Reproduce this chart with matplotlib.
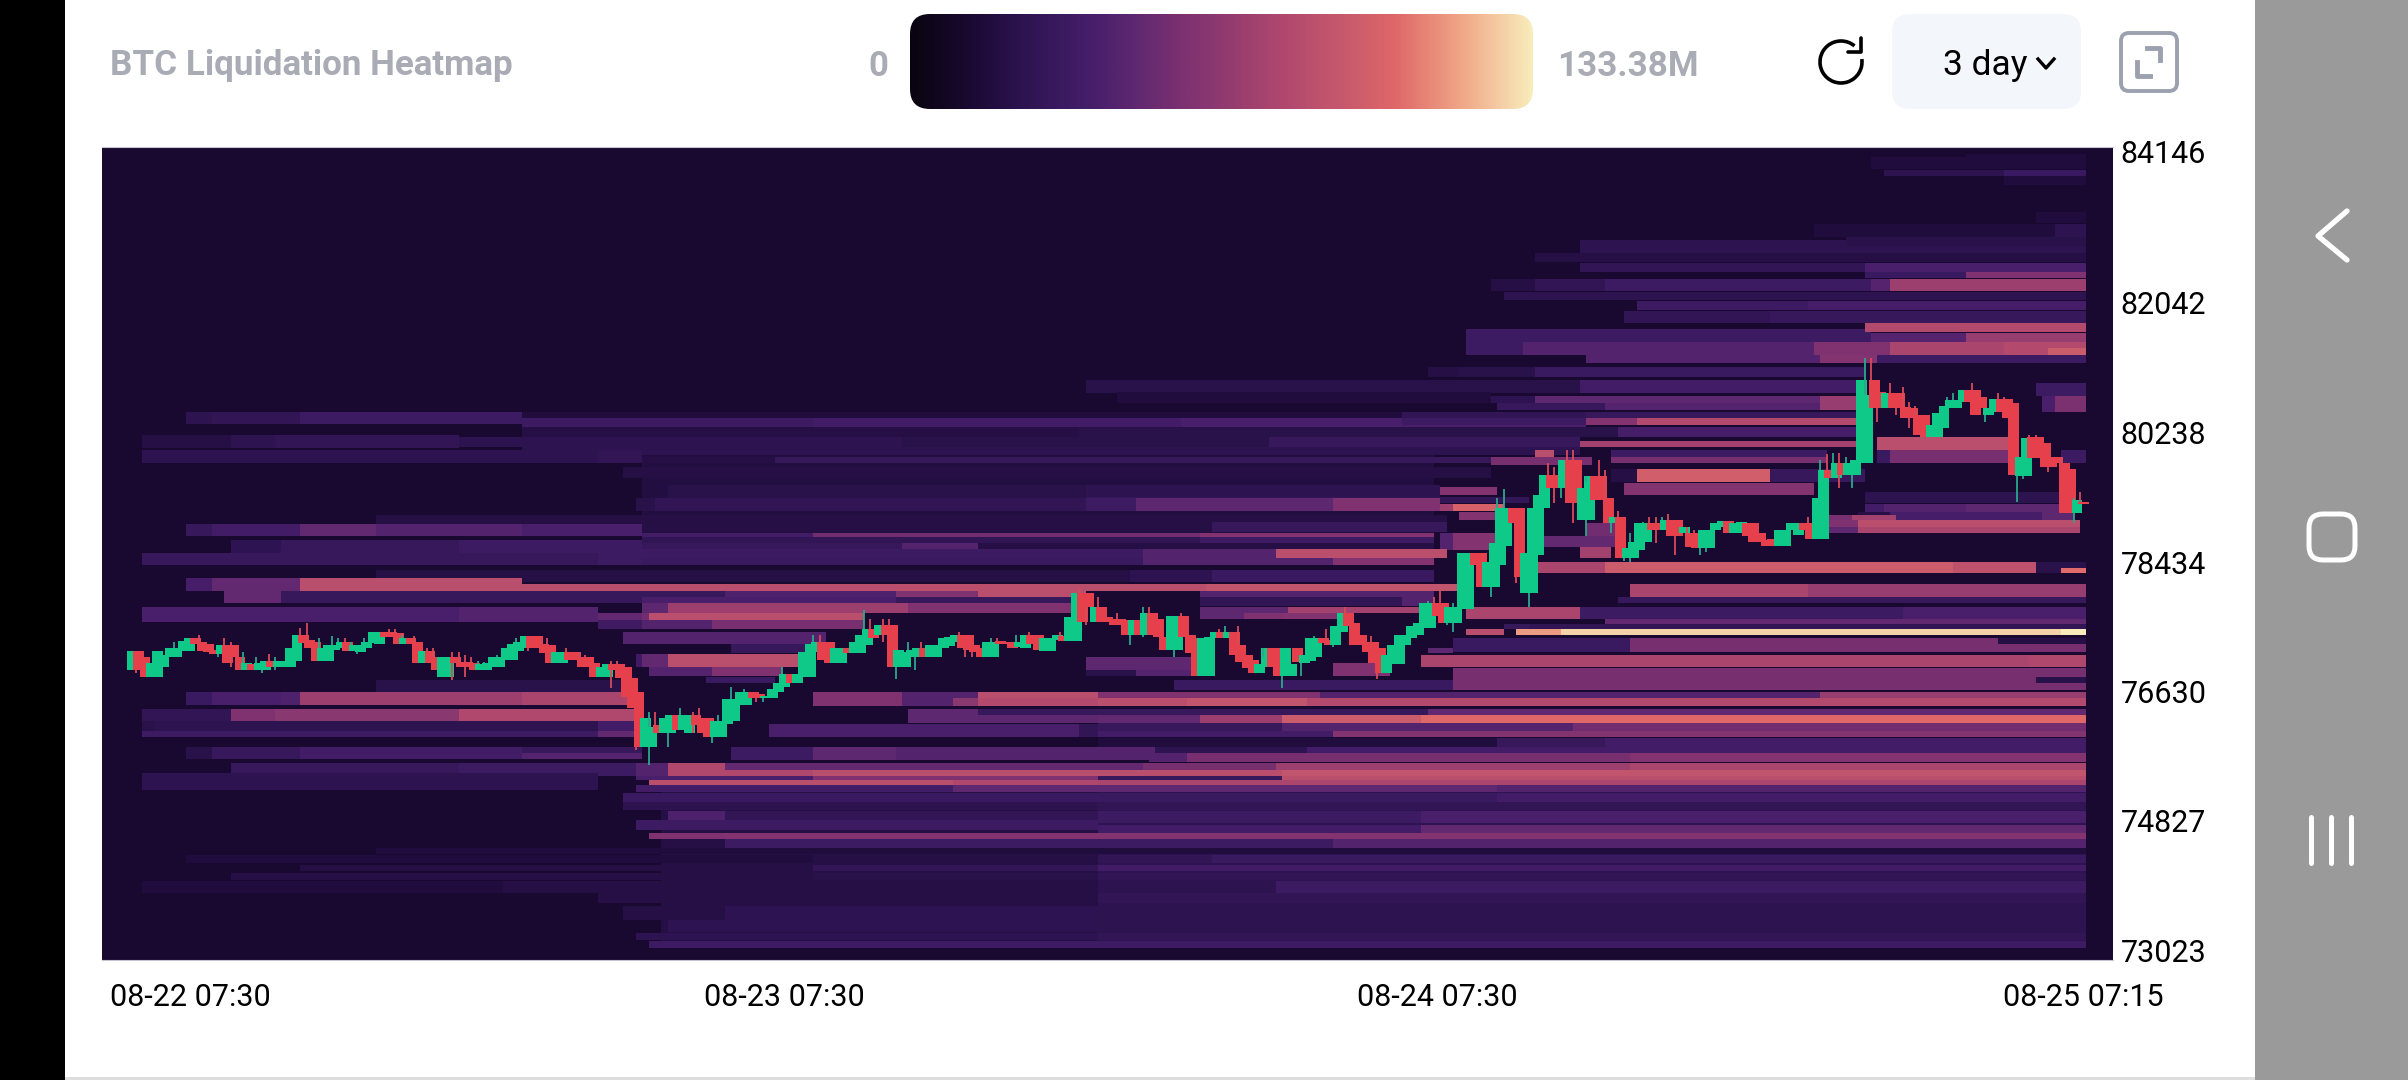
import numpy as np
import matplotlib
matplotlib.use("Agg")
import matplotlib.pyplot as plt
from matplotlib.colors import LinearSegmentedColormap
from matplotlib.patches import FancyBboxPatch, Rectangle, Arc
from matplotlib.transforms import ScaledTranslation

plt.rcParams['font.family'] = ['Roboto', 'DejaVu Sans']

# tick labels
price_ticks = [84146, 82042, 80238, 78434, 76630, 74827, 73023]
time_ticks = [0, 103, 206, 308]
time_labels = ['08-22 07:30', '08-23 07:30', '08-24 07:30', '08-25 07:15']
scale_max = 133.38

# candles
opens = [76931, 77195, 77107, 76838, 76838, 76977, 77107, 77107, 77195, 77195, 77371, 77325, 77288, 77209, 77149, 77279,
         77279, 77107, 76931, 77014, 76931, 76931, 77056, 76977, 76977, 76977, 77056, 77418, 77348, 77325, 77056, 77056,
         77209, 77232, 77325, 77200, 77186, 77232, 77302, 77288, 77455, 77455, 77441, 77288, 77371, 77325, 77023, 77195,
         77107, 76838, 76838, 77107, 77047, 77047, 77023, 76931, 76931, 76977, 76977, 77070, 77070, 77195, 77232, 77409,
         77409, 77288, 77279, 77023, 77023, 77186, 77186, 77107, 77107, 77023, 76838, 76838, 77014, 77014, 76977, 76815,
         76620, 75864, 75864, 76165, 76049, 76049, 76305, 76096, 76049, 76305, 76258, 76258, 76003, 76003, 76179, 76226,
         76444, 76444, 76620, 76597, 76537, 76537, 76620, 76699, 76875, 76755, 76838, 76838, 77186, 77325, 77325, 77024,
         77024, 77233, 77163, 77163, 77279, 77497, 77418, 77557, 77557, 76977, 76977, 77107, 77107, 77233, 77107, 77107,
         77233, 77265, 77325, 77418, 77418, 77279, 77233, 77107, 77107, 77335, 77325, 77325, 77247, 77233, 77418, 77418,
         77200, 77200, 77349, 77409, 77335, 77335, 77998, 77998, 77604, 77813, 77673, 77636, 77636, 77627, 77418, 77627,
         77419, 77720, 77637, 77395, 77210, 77210, 77683, 77419, 77372, 76848, 76848, 77372, 77465, 77372, 77465, 77279,
         77140, 77071, 76885, 76978, 77233, 77233, 76848, 76848, 77233, 77024, 77061, 77117, 77372, 77349, 77279, 77465,
         77729, 77581, 77419, 77326, 77326, 77233, 76885, 77015, 77015, 77279, 77372, 77419, 77511, 77511, 77859, 77859,
         77590, 77590, 77777, 77777, 78566, 78566, 78092, 78092, 78394, 78659, 79183, 79183, 78000, 78000, 78533, 79183,
         79647, 79647, 79461, 79856, 79856, 79020, 79020, 79633, 79633, 79322, 78974, 79058, 78487, 78487, 78603, 78719,
         78974, 78974, 78881, 79020, 79020, 78835, 78835, 78835, 78626, 78626, 78881, 78918, 79011, 78844, 78844, 78974,
         78974, 78835, 78742, 78751, 78658, 78658, 78881, 78812, 78974, 78974, 78751, 78751, 79717, 79601, 79809, 79647,
         79647, 79809, 79809, 80969, 80807, 80575, 80784, 80784, 80598, 80575, 80482, 80482, 80171, 80171, 80297, 80575,
         80575, 80668, 80830, 80830, 80737, 80482, 80529, 80700, 80700, 80645, 79633, 79633, 80171, 80171, 80088, 79902,
         79902, 79809, 79726, 79113, 79276]
closes = [77195, 76931, 76838, 77023, 77195, 77139, 77232, 77232, 77334, 77371, 77288, 77195, 77186, 77153, 77279, 77023,
          77107, 76931, 77023, 76931, 77023, 77056, 76977, 77056, 77056, 77232, 77418, 77302, 77232, 77056, 77241, 77279,
          77279, 77325, 77200, 77279, 77279, 77316, 77455, 77455, 77385, 77385, 77288, 77371, 77288, 77023, 77195, 77023,
          76931, 77107, 77107, 77023, 76977, 76977, 76931, 77014, 77023, 77107, 77107, 77241, 77288, 77325, 77409, 77241,
          77241, 77163, 77023, 77186, 77186, 77070, 77070, 76977, 76977, 76838, 76977, 77014, 76931, 76815, 76559, 76400,
          75864, 76258, 76142, 76049, 76258, 76305, 76096, 76305, 76305, 76165, 76049, 76003, 76226, 76226, 76523, 76523,
          76620, 76620, 76537, 76537, 76574, 76666, 76755, 76875, 76755, 76875, 77186, 77293, 77325, 77070, 77024, 77233,
          77233, 77163, 77325, 77418, 77497, 77372, 77557, 77418, 76977, 77209, 77186, 77209, 77233, 77107, 77279, 77279,
          77372, 77395, 77418, 77233, 77209, 77186, 77107, 77325, 77325, 77293, 77293, 77233, 77325, 77418, 77293, 77209,
          77372, 77372, 77418, 77335, 77673, 77998, 77604, 77813, 77813, 77604, 77604, 77557, 77557, 77418, 77627, 77418,
          77729, 77419, 77395, 77210, 77683, 77683, 77395, 77163, 76848, 77372, 77386, 77465, 77372, 77465, 77140, 77047,
          76955, 76885, 77015, 77233, 76978, 76848, 77233, 77015, 77047, 77140, 77372, 77372, 77303, 77279, 77544, 77729,
          77544, 77279, 77279, 77187, 77024, 76885, 77140, 77279, 77419, 77419, 77544, 77581, 77859, 77859, 77683, 77590,
          77813, 77813, 78566, 78566, 78394, 78092, 78440, 78705, 79183, 79183, 78974, 78232, 78556, 79183, 79368, 79647,
          79461, 79461, 79856, 79252, 79252, 79461, 79633, 79299, 79299, 78974, 79067, 78487, 78626, 78719, 78974, 78974,
          78881, 78881, 79020, 78798, 78798, 78918, 78649, 78626, 78881, 78881, 78974, 79011, 78844, 78974, 78997, 78798,
          78719, 78719, 78658, 78658, 78881, 78881, 78974, 78974, 78881, 78751, 79322, 79717, 79601, 79809, 79647, 79809,
          79856, 80969, 80761, 80575, 80575, 80784, 80575, 80575, 80436, 80436, 80204, 80171, 80343, 80505, 80607, 80691,
          80691, 80830, 80668, 80482, 80575, 80575, 80700, 80529, 80436, 79647, 79902, 80157, 79879, 79879, 79763, 79763,
          79809, 79113, 79113, 79299, 79243]

# wicks, only where they stand out from the body
high_idx = [7, 11, 15, 16, 18, 20, 22, 23, 27, 28, 30, 32, 33, 34, 35, 37, 41, 42, 43, 45, 47, 48, 51, 52, 53, 54, 55, 56,
            58, 61, 65, 66, 69, 71, 72, 76, 77, 82, 83, 86, 87, 89, 90, 93, 95, 97, 103, 108, 109, 116, 117, 119, 120, 123,
            125, 131, 136, 137, 140, 142, 147, 150, 153, 156, 160, 161, 166, 172, 173, 175, 179, 187, 189, 192, 196, 205,
            206, 207, 209, 216, 217, 224, 225, 227, 228, 230, 232, 233, 235, 237, 239, 240, 241, 242, 243, 246, 247, 265,
            267, 268, 269, 270, 271, 274, 275, 278, 280, 281, 282, 287, 288, 291, 295, 296, 300, 301, 305, 307, 308]
high_val = [77325, 77418, 77371, 77325, 77186, 77107, 77153, 77107, 77510, 77590, 77371, 77409, 77371, 77371, 77325, 77371,
            77501, 77501, 77418, 77409, 77232, 77232, 77186, 77186, 77139, 77107, 77060, 77047, 77139, 77371, 77325, 77371,
            77232, 77186, 77139, 77056, 77056, 76351, 76351, 76305, 76397, 76351, 76397, 76305, 76699, 76662, 76968, 77418,
            77418, 77766, 77636, 77636, 77636, 77325, 77325, 77465, 77372, 77372, 77418, 77465, 77455, 78068, 77942, 77720,
            77813, 77813, 77720, 77497, 77544, 77544, 77108, 77409, 77497, 77813, 77409, 77897, 77943, 78036, 77859, 79322,
            79447, 79809, 79763, 79995, 79995, 79554, 79856, 79716, 79150, 78835, 78997, 79058, 79058, 79058, 79104, 78918,
            78881, 79058, 79856, 79939, 79949, 79949, 79902, 81271, 81271, 80923, 80877, 80668, 80607, 80737, 80784, 80923,
            80784, 80737, 80204, 80204, 79893, 79322, 79406]
low_idx = [1, 14, 16, 21, 23, 36, 48, 51, 53, 63, 76, 80, 82, 85, 89, 92, 99, 100, 119, 121, 124, 132, 133, 151, 158, 160,
           163, 165, 182, 185, 190, 197, 208, 209, 215, 219, 221, 225, 226, 228, 230, 234, 236, 237, 241, 244, 248, 249,
           270, 272, 276, 279, 281, 293, 298, 299, 303, 307]
low_val = [76884, 77107, 76977, 76884, 76931, 77153, 76931, 76791, 76838, 77195, 76675, 75817, 75609, 75864, 76049, 75910,
           76490, 76490, 77325, 76801, 76931, 77107, 77107, 77557, 77279, 77395, 77233, 77108, 76676, 76848, 77247, 76801,
           77558, 77465, 77953, 78139, 77814, 79252, 79322, 78974, 78798, 78835, 78454, 78440, 78705, 78533, 78533, 78579,
           79461, 79461, 80389, 80482, 80297, 80389, 79276, 79587, 79693, 78974]

# liquidation bands: (price high, price low, last time index, [(from index, amount in M), ...])
bands_top = [
    (84118, 84034, 308, [(290, 17)]),
    (84076, 83909, 308, [(275, 17)]),
    (83895, 83811, 308, [(277, 24), (296, 32)]),
    (83811, 83686, 308, [(296, 17)]),
    (83310, 83157, 308, [(301, 17)]),
    (83143, 82962, 308, [(266, 17), (304, 24)]),
    (82920, 82739, 308, [(229, 24)]),
    (82962, 82836, 308, [(271, 22)]),
    (82739, 82613, 308, [(222, 20)]),
    (82599, 82474, 308, [(229, 27), (274, 40)]),
    (82474, 82390, 308, [(274, 32), (290, 60)]),
    (82376, 82209, 308, [(215, 20), (222, 27), (233, 34), (275, 45), (278, 72)]),
    (82195, 82084, 308, [(217, 24)]),
    (82070, 81945, 308, [(238, 34), (265, 38)]),
    (81931, 81764, 308, [(236, 27), (259, 30)]),
    (81680, 81499, 274, [(211, 34)]),
    (81764, 81639, 308, [(274, 82)]),
    (81624, 81499, 308, [(275, 45), (290, 70)]),
    (81499, 81318, 308, [(211, 34), (220, 44), (266, 60), (278, 78), (296, 82)]),
    (81415, 81318, 308, [(303, 95)]),
    (81318, 81206, 308, [(230, 44), (267, 62), (276, 34)]),
]
bands_upper = [
    (80450, 78590, 205, [(81, 18)]),
    (81151, 81011, 273, [(205, 20), (210, 22), (222, 32)]),
    (80970, 80788, 273, [(151, 22), (229, 36)]),
    (80928, 80747, 308, [(301, 34)]),
    (80802, 80649, 214, [(156, 17)]),
    (80747, 80649, 273, [(215, 25), (222, 48), (267, 70)]),
    (80649, 80552, 273, [(216, 30), (233, 44), (267, 70)]),
    (80747, 80524, 308, [(302, 40), (304, 58)]),
    (80524, 80356, 61, [(9, 24), (13, 27), (27, 34)]),
    (80524, 80440, 273, [(62, 17), (201, 27), (230, 30)]),
    (80440, 80315, 229, [(62, 34), (108, 36), (166, 40)]),
    (80440, 80342, 273, [(201, 34), (230, 62), (238, 82)]),
    (80315, 80175, 273, [(62, 20), (150, 22), (235, 38)]),
    (80203, 80022, 51, [(2, 20), (16, 24), (23, 27)]),
    (80175, 80036, 228, [(52, 24), (122, 22), (180, 30)]),
    (80120, 80036, 273, [(229, 75)]),
    (80175, 79994, 297, [(276, 85)]),
    (80036, 79925, 228, [(62, 24)]),
    (79994, 79813, 80, [(2, 24), (74, 27)]),
    (79897, 79813, 219, [(81, 20), (102, 30)]),
    (79897, 79785, 230, [(215, 57)]),
    (79994, 79897, 224, [(222, 85)]),
    (79994, 79897, 267, [(234, 34)]),
    (79897, 79813, 267, [(234, 57)]),
    (79994, 79813, 296, [(276, 32), (278, 57)]),
    (79994, 79813, 308, [(305, 34)]),
    (79757, 79604, 214, [(78, 20)]),
    (79730, 79549, 273, [(234, 20), (238, 97), (259, 30)]),
    (79507, 79326, 206, [(85, 22), (151, 24)]),
    (79535, 79367, 265, [(236, 62)]),
    (79479, 79368, 215, [(207, 62)]),
    (79409, 79256, 306, [(274, 24)]),
    (79340, 79256, 220, [(151, 28)]),
]
bands_middle = [
    (79326, 79144, 206, [(80, 22), (83, 27), (151, 34), (159, 48), (190, 60)]),
    (79242, 79144, 216, [(207, 72), (209, 100)]),
    (79242, 79131, 306, [(274, 36), (277, 44), (290, 48)]),
    (79131, 79020, 215, [(210, 62)]),
    (79131, 79020, 306, [(273, 20), (278, 38), (302, 48)]),
    (79089, 79020, 278, [(268, 57), (272, 75)]),
    (79020, 78922, 307, [(268, 60), (273, 85)]),
    (78922, 78838, 307, [(268, 48), (273, 78)]),
    (79089, 78922, 207, [(39, 20)]),
    (78964, 78796, 80, [(9, 30), (13, 36), (27, 50), (39, 44), (62, 40)]),
    (78991, 78852, 207, [(81, 20), (171, 30)]),
    (78838, 78783, 205, [(81, 36), (108, 55), (169, 62)]),
    (78783, 78699, 205, [(81, 27), (169, 34)]),
    (78838, 78601, 215, [(207, 44), (209, 62)]),
    (78977, 78800, 234, [(230, 55)]),
    (78800, 78650, 234, [(223, 50)]),
    (78741, 78559, 80, [(16, 25), (24, 30), (52, 34)]),
    (78699, 78574, 205, [(81, 30), (122, 44), (134, 20)]),
    (78650, 78490, 233, [(229, 75)]),
    (78559, 78393, 80, [(2, 30), (74, 34)]),
    (78615, 78490, 207, [(81, 34), (160, 44), (181, 85)]),
    (78490, 78393, 205, [(81, 32), (160, 44), (190, 62)]),
    (78323, 78156, 205, [(39, 20), (158, 24), (171, 32)]),
    (78433, 78280, 232, [(222, 78)]),
    (78433, 78280, 308, [(233, 95), (288, 88), (301, 22)]),
    (78350, 78280, 308, [(305, 105)]),
    (78211, 78030, 61, [(9, 38), (13, 50), (27, 85)]),
    (78128, 78030, 209, [(62, 85), (170, 90)]),
    (78128, 77947, 308, [(237, 78), (265, 70)]),
    (78030, 77863, 80, [(15, 50), (24, 30)]),
    (78030, 77947, 150, [(80, 30), (94, 42), (121, 60), (134, 85)]),
    (78030, 77947, 205, [(169, 44)]),
    (77947, 77863, 150, [(81, 40), (121, 30)]),
    (77947, 77821, 205, [(169, 27), (201, 44)]),
    (77947, 77863, 308, [(235, 30)]),
    (77863, 77724, 150, [(81, 48), (85, 72), (123, 60)]),
    (77807, 77724, 205, [(169, 48), (183, 75)]),
    (77807, 77598, 73, [(2, 40), (52, 44)]),
    (77807, 77640, 229, [(211, 78)]),
    (77807, 77640, 308, [(229, 34), (280, 40)]),
    (77724, 77626, 115, [(74, 50), (81, 55), (82, 85)]),
    (77724, 77640, 191, [(169, 48), (176, 60), (182, 62)]),
    (77640, 77570, 308, [(233, 50)]),
    (77626, 77501, 115, [(74, 35), (81, 44), (92, 57)]),
    (77570, 77500, 308, [(217, 30), (221, 27)]),
    (77500, 77416, 216, [(211, 85)]),
    (77500, 77416, 308, [(219, 116), (226, 128), (295, 128), (305, 133)]),
]
bands_lower = [
    (77459, 77292, 109, [(78, 44)]),
    (77375, 77180, 308, [(209, 32), (237, 57)]),
    (77375, 77290, 308, [(295, 20)]),
    (77292, 77166, 107, [(95, 30)]),
    (77236, 77166, 208, [(205, 48)]),
    (77153, 76972, 106, [(80, 35), (81, 50), (85, 85)]),
    (77139, 76972, 308, [(204, 78), (300, 80)]),
    (77111, 76930, 167, [(151, 48)]),
    (77027, 76846, 198, [(190, 60)]),
    (76972, 76846, 102, [(82, 44), (92, 60)]),
    (76930, 76846, 167, [(151, 22), (159, 44)]),
    (76958, 76651, 308, [(209, 57)]),
    (76832, 76749, 308, [(301, 22)]),
    (76832, 76749, 101, [(91, 32)]),
    (76791, 76651, 208, [(165, 32)]),
    (76791, 76623, 78, [(39, 22)]),
    (76623, 76442, 80, [(9, 32), (13, 40), (24, 42), (27, 72), (62, 78)]),
    (76623, 76540, 308, [(108, 60), (122, 44), (134, 85), (153, 60), (188, 44), (267, 70)]),
    (76540, 76429, 308, [(108, 60), (122, 44), (130, 65), (134, 82), (153, 85), (167, 90), (186, 82)]),
    (76386, 76219, 80, [(2, 27), (16, 60), (23, 65), (52, 80)]),
    (76386, 76302, 308, [(123, 48), (134, 30), (205, 50)]),
    (76302, 76191, 308, [(123, 48), (153, 50), (169, 72), (182, 95), (204, 104)]),
    (76219, 76066, 80, [(2, 22), (4, 24), (74, 36)]),
    (76177, 75997, 205, [(101, 40), (150, 27)]),
    (76191, 76080, 308, [(153, 30), (182, 44), (228, 55)]),
    (76080, 75997, 80, [(2, 34), (74, 50)]),
    (76080, 75997, 308, [(153, 36), (190, 62)]),
    (75983, 75857, 308, [(153, 17), (216, 30), (233, 36)]),
    (75857, 75690, 80, [(9, 22), (13, 30), (27, 36), (62, 30)]),
    (75774, 75690, 80, [(62, 44)]),
    (75857, 75676, 160, [(95, 34), (108, 48), (121, 44)]),
    (75857, 75774, 308, [(161, 44), (162, 24), (186, 36)]),
    (75774, 75648, 308, [(161, 44), (167, 57), (237, 62)]),
    (75634, 75453, 79, [(16, 30), (52, 34)]),
    (75634, 75536, 308, [(80, 44), (85, 80), (94, 50), (160, 57), (181, 72), (237, 78)]),
    (75536, 75453, 308, [(80, 44), (85, 80), (108, 85), (182, 90)]),
    (75453, 75397, 308, [(80, 40), (108, 60), (153, 30), (182, 85)]),
    (75397, 75328, 308, [(82, 85), (130, 80), (153, 78)]),
    (75495, 75258, 73, [(2, 24)]),
    (75328, 75230, 308, [(80, 36), (130, 48), (216, 44)]),
]
bands_bottom = [
    (75230, 73057, 308, [(84, 20), (153, 25)]),
    (75216, 75091, 308, [(78, 32), (216, 36)]),
    (75091, 74980, 308, [(78, 24), (153, 27)]),
    (74966, 74799, 308, [(85, 42), (94, 27), (153, 34), (204, 40)]),
    (74841, 74702, 152, [(80, 34)]),
    (74771, 74660, 308, [(153, 36), (204, 50)]),
    (74660, 74576, 308, [(82, 60), (94, 62)]),
    (74576, 74450, 308, [(94, 34), (190, 44)]),
    (74450, 74367, 308, [(39, 17)]),
    (74353, 74241, 308, [(9, 17), (108, 20), (153, 27), (171, 32)]),
    (74213, 74130, 308, [(27, 20), (108, 27), (153, 36)]),
    (74102, 74004, 308, [(16, 20), (108, 22), (153, 27)]),
    (73990, 73823, 308, [(2, 17), (59, 20), (153, 24), (181, 34)]),
    (73823, 73684, 308, [(74, 20), (153, 27)]),
    (73643, 73448, 308, [(78, 20), (94, 25), (153, 24)]),
    (73448, 73281, 308, [(85, 25), (153, 24)]),
    (73266, 73169, 308, [(80, 25), (153, 27)]),
    (73155, 73057, 308, [(82, 34)]),
]

W, H = 2408, 1080
fig = plt.figure(figsize=(W / 100, H / 100), dpi=100, facecolor='white')

heat_cmap = LinearSegmentedColormap.from_list('heat', [
    (0.0, '#090410'), (0.10, '#1b0a33'), (0.13, '#220e3f'), (0.18, '#2d1350'), (0.24, '#3a1a60'),
    (0.30, '#4a1f6c'), (0.36, '#5e2870'), (0.43, '#7a3070'), (0.50, '#8f3a70'), (0.60, '#b0486e'),
    (0.70, '#c85a6d'), (0.78, '#df6768'), (0.89, '#f0a888'), (1.0, '#f8ecbb')])

# page furniture, in pixels
ui = fig.add_axes([0, 0, 1, 1])
ui.set_xlim(0, W)
ui.set_ylim(H, 0)
ui.axis('off')
ui.add_patch(Rectangle((0, 0), 65, H, color='black', lw=0))
ui.add_patch(Rectangle((2255, 0), 153, H, color='#9a9a9a', lw=0))
ui.add_patch(Rectangle((65, 1077), 2190, 3, color='#dedede', lw=0))

ui.text(110, 66, 'BTC Liquidation Heatmap', fontsize=25.2, fontweight='bold', color='#a9acb4', va='center')
ui.text(888, 66, '0', fontsize=25, fontweight='bold', color='#a9acb4', va='center', ha='right')
ui.text(1557, 66, '%.2fM' % scale_max, fontsize=25.2, fontweight='bold', color='#a9acb4', va='center')

# colour scale
gradient = np.linspace(0, scale_max, 600).reshape(1, -1)
img = ui.imshow(gradient, cmap=heat_cmap, vmin=0, vmax=scale_max, extent=(910, 1533, 109, 14), aspect='auto', zorder=2)
clip = FancyBboxPatch((926, 30), 591, 63, boxstyle='round,pad=16,rounding_size=20', fc='none', ec='none')
ui.add_patch(clip)
img.set_clip_path(clip)
ui.set_xlim(0, W)
ui.set_ylim(H, 0)

# refresh button
ui.add_patch(Arc((1841, 62), 42, 42, theta1=-8, theta2=310, color='black', lw=2.6))
ui.plot([1848, 1861, 1861], [52, 52, 38], color='black', lw=2.6, solid_capstyle='round')

# range button
ui.add_patch(FancyBboxPatch((1908, 30), 157, 63, boxstyle='round,pad=16,rounding_size=18', fc='#f3f6fa', ec='none'))
ui.text(1943, 65, '3 day', fontsize=25.5, color='black', va='center')
ui.plot([2038, 2046, 2054], [59, 68, 59], color='black', lw=2.4)

# expand button
ui.add_patch(FancyBboxPatch((2128, 40), 42, 44, boxstyle='round,pad=7,rounding_size=8', fc='none', ec='#9ba1ae', lw=2.8))
ui.plot([2147, 2160, 2160], [48, 48, 60], color='#9ba1ae', lw=3.5)
ui.plot([2137, 2137, 2150], [62, 76, 76], color='#9ba1ae', lw=3.5)

# phone navigation
ui.plot([2347, 2318, 2347], [211, 236, 260], color='white', lw=3.8, solid_capstyle='round')
ui.add_patch(FancyBboxPatch((2317, 522), 30, 30, boxstyle='round,pad=8,rounding_size=14', fc='none', ec='white', lw=3.6))
for nav_x in [2311, 2331, 2351]:
    ui.plot([nav_x, nav_x], [817, 863], color='white', lw=3.6, solid_capstyle='round')

# heatmap
ax = fig.add_axes([102 / W, 1 - 960 / H, (2113 - 102) / W, (960 - 147) / H])
ax.set_facecolor('#1b0a33')

y_edges = np.arange(72890, 84240, 10)
x_edges = np.arange(-5, 315)
z = np.full((len(y_edges) - 1, len(x_edges) - 1), 13.0)
y_centers = (y_edges[:-1] + y_edges[1:]) / 2
for group in [bands_top, bands_upper, bands_middle, bands_lower, bands_bottom]:
    for hi, lo, last, steps in group:
        rows = (y_centers <= hi) & (y_centers > lo)
        for n, (start, val) in enumerate(steps):
            stop = steps[n + 1][0] if n + 1 < len(steps) else last + 1
            z[rows, start + 5:stop + 5] = val

ax.imshow(z, origin='lower', cmap=heat_cmap, vmin=0, vmax=scale_max, interpolation='nearest', aspect='auto',
          extent=(x_edges[0], x_edges[-1], y_edges[0], y_edges[-1]))

# candles
o = np.array(opens)
c = np.array(closes)
t = np.arange(len(o))
up = c >= o
candle_colors = np.where(up, '#0ec987', '#e5404b')
ax.vlines(high_idx, np.maximum(o, c)[high_idx], high_val, colors=np.where(up[high_idx], '#2aa88c', '#d84a58'), lw=1.3)
ax.vlines(low_idx, np.minimum(o, c)[low_idx], low_val, colors=np.where(up[low_idx], '#2aa88c', '#d84a58'), lw=1.3)
ax.bar(t + 0.5, np.abs(c - o), bottom=np.minimum(o, c), width=1.7, color=candle_colors, lw=0)

ax.set_xlim(-4.3, 313.2)
ax.set_ylim(72890, 84215)
ax.set_yticks(price_ticks)
ax.set_yticklabels([str(p) for p in price_ticks])
ax.yaxis.tick_right()
ax.set_xticks([k + 0.5 for k in time_ticks])
ax.set_xticklabels(time_labels)
ax.tick_params(axis='both', length=0, labelsize=22, labelcolor='black')
ax.tick_params(axis='y', pad=5.5)
ax.tick_params(axis='x', pad=16.5)
first = ax.get_xticklabels()[0]
first.set_ha('left')
first.set_transform(first.get_transform() + ScaledTranslation(-0.22, 0, fig.dpi_scale_trans))
for side in ['left', 'right']:
    ax.spines[side].set_visible(False)
for side in ['top', 'bottom']:
    ax.spines[side].set_color('#c9c3d6')
    ax.spines[side].set_linewidth(0.8)

fig.savefig('out.png', dpi=100)
